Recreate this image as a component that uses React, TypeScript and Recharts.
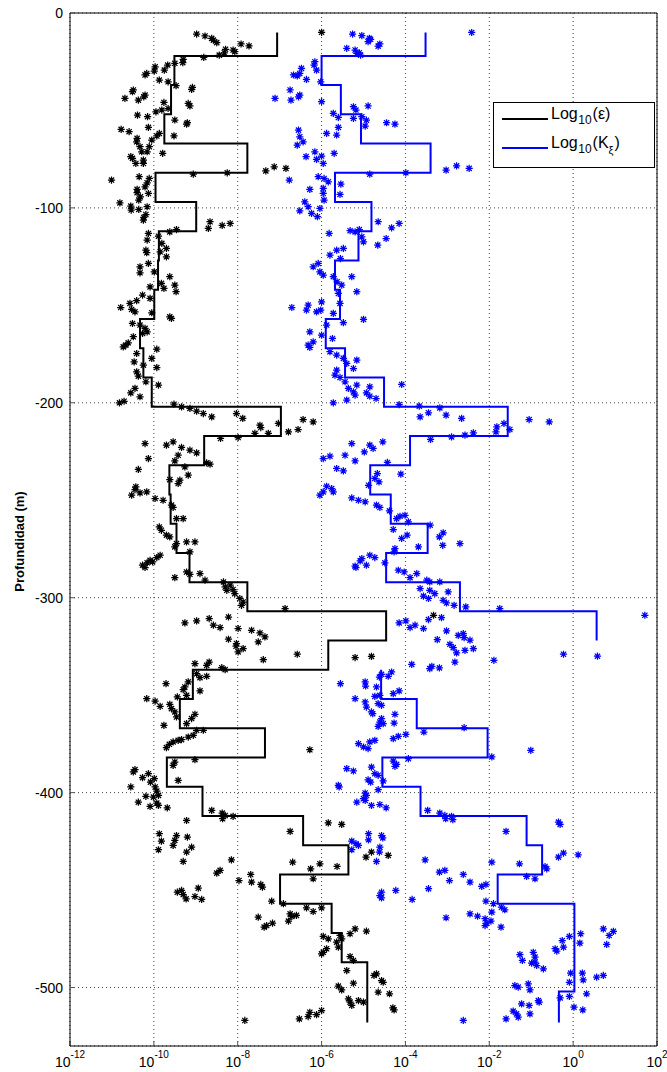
import React from 'react';
import { ScatterChart, Scatter, XAxis, YAxis, CartesianGrid, Legend } from 'recharts';

const FONT = '"Liberation Sans", Arial, Helvetica, sans-serif';

// depth bin edges (m) of the averaged profiles
const depthEdges = [-10, -22, -37, -52, -67, -82, -97, -112, -127, -142, -157, -172, -187, -202, -217, -232, -247, -262, -277, -292, -307, -322, -337, -352, -367, -382, -397, -412, -427, -442, -457, -472, -487, -502, -518];

// log10(epsilon) per bin
const epsilonProfile = [-7.06, -9.51, -9.59, -9.75, -7.77, -9.96, -8.99, -9.88, -9.9, -9.99, -10.33, -10.25, -10.05, -6.97, -8.8, -9.63, -9.6, -9.46, -9.15, -7.77, -4.46, -5.84, -9.07, -9.38, -7.35, -9.69, -8.84, -6.44, -5.36, -6.99, -5.76, -5.52, -4.91, -4.91];

// log10(K) per bin (null = no value)
const kProfile: (number | null)[] = [-3.52, -6.0, -5.54, -5.06, -3.4, -5.68, -4.81, -5.12, -5.68, -5.56, -5.9, -5.44, -4.51, -1.56, -3.89, -4.84, -4.35, -3.47, -4.46, -2.7, 0.56, null, -4.58, -3.73, -2.04, -4.55, -3.64, -1.11, -0.74, -1.8, 0.03, 0.03, 0.03, -0.34];

const xTickExponents = [-12, -10, -8, -6, -4, -2, 0, 2];
const depthTicks = [0, -100, -200, -300, -400, -500];

// individual estimates: [log10 value, depth (m)]
const epsilonStars: [number, number][] = [
[-8.98,-10.8],[-8.78,-11.8],[-8.62,-13.0],[-8.58,-13.9],[-8.50,-15.2],[-8.29,-18.6],[-8.11,-19.0],[-8.07,-19.8],[-7.92,-15.9],[-7.73,-16.9],[-8.32,-20.4],[-8.44,-21.6],[-8.81,-22.8],[-9.30,-23.8],[-9.31,-25.5],[-9.50,-25.8],[-9.67,-26.7],[-9.75,-29.3],[-9.97,-27.6],[-10.17,-31.0],[-10.21,-31.8],[-9.99,-29.8],[-9.87,-34.4],[-9.66,-35.3],[-9.47,-37.3],[-9.08,-38.2],[-9.10,-39.2],[-10.49,-39.5],[-10.51,-40.4],[-10.21,-42.1],[-10.24,-43.0],[-10.69,-43.8],[-10.37,-44.7],[-9.76,-45.9],[-9.95,-50.7],[-9.81,-49.8],[-9.66,-49.0],[-10.39,-52.4],[-10.15,-53.2],[-9.18,-46.4],[-9.14,-47.7],[-9.50,-54.9],[-9.20,-56.3],[-9.22,-57.0],[-10.78,-59.7],[-10.59,-60.9],[-10.13,-58.7],[-9.87,-61.8],[-9.93,-63.1],[-10.05,-65.2],[-10.40,-64.3],[-10.41,-66.1],[-10.33,-68.6],[-10.11,-68.6],[-10.16,-71.2],[-10.29,-71.2],[-10.55,-73.7],[-10.51,-74.6],[-10.43,-77.2],[-10.25,-77.2],[-10.25,-75.5],[-9.79,-72.0],[-9.52,-63.0],[-11.01,-85.7],[-10.35,-84.0],[-10.11,-84.9],[-10.16,-87.1],[-10.21,-89.2],[-10.40,-90.5],[-10.40,-92.2],[-10.32,-94.3],[-10.36,-96.0],[-10.13,-92.6],[-10.81,-97.4],[-10.55,-99.1],[-10.54,-101.1],[-10.36,-100.8],[-10.16,-99.4],[-10.24,-104.9],[-10.25,-106.3],[-10.19,-103.4],[-9.06,-82.7],[-8.25,-82.0],[-8.66,-107.1],[-8.70,-110.5],[-8.37,-109.0],[-8.18,-108.0],[-7.33,-81.0],[-7.13,-78.9],[-6.85,-79.7],[-10.13,-113.1],[-10.16,-116.5],[-9.89,-114.5],[-9.62,-112.3],[-9.46,-111.1],[-9.81,-118.2],[-10.19,-121.7],[-10.17,-123.0],[-9.85,-122.5],[-9.70,-120.8],[-9.70,-125.1],[-10.13,-128.5],[-10.33,-130.2],[-6.0,-9.9],
[-10.33,-133.3],[-9.99,-132.8],[-9.62,-135.3],[-9.50,-139.6],[-9.47,-143.0],[-9.76,-141.3],[-9.82,-138.7],[-10.09,-140.5],[-10.09,-146.4],[-10.27,-144.7],[-10.41,-147.6],[-10.79,-151.1],[-10.57,-149.0],[-10.53,-152.1],[-10.45,-153.3],[-10.05,-153.8],[-9.62,-155.9],[-9.58,-156.7],[-10.51,-159.3],[-10.33,-160.1],[-10.21,-161.8],[-10.16,-163.6],[-10.27,-164.4],[-10.49,-166.1],[-10.67,-170.4],[-10.73,-171.3],[-10.61,-169.2],[-9.93,-172.5],[-10.41,-174.7],[-10.05,-177.2],[-10.47,-179.0],[-10.25,-180.7],[-9.93,-181.9],[-10.41,-184.1],[-10.37,-186.3],[-10.19,-189.2],[-9.89,-190.9],[-10.45,-192.6],[-10.55,-194.9],[-10.33,-196.9],[-10.82,-200.0],[-10.71,-199.2],[-9.52,-200.7],[-9.34,-202.1],[-9.14,-202.9],[-8.98,-204.3],[-8.82,-205.5],[-8.62,-207.2],[-8.03,-205.5],[-7.88,-208.0],[-7.47,-211.5],[-7.45,-212.7],[-7.03,-210.6],[-6.79,-214.9],[-6.56,-213.7],[-6.44,-208.6],[-6.20,-209.8],[-7.59,-215.7],[-7.27,-215.7],[-7.99,-217.8],[-8.41,-218.3],[-10.21,-220.9],[-9.70,-221.7],[-9.54,-220.0],[-9.34,-222.9],[-9.14,-224.3],[-8.98,-225.7],[-9.42,-226.9],[-9.50,-229.8],[-9.26,-232.9],[-9.18,-237.1],[-8.74,-230.8],[-8.66,-231.5],[-10.13,-228.6],[-10.37,-234.2],[-9.62,-239.4],[-9.38,-239.7],[-9.42,-241.4],[-10.43,-243.1],[-10.45,-244.5],[-10.53,-247.4],[-10.33,-246.2],[-10.17,-245.7],[-9.97,-249.1],[-9.78,-250.0],[-9.58,-252.5],[-9.54,-253.7],[-9.30,-259.4],[-9.46,-259.4],[-9.87,-263.7],[-9.82,-265.4],[-9.70,-267.9],[-9.62,-268.8],
[-9.46,-272.2],[-9.50,-273.9],[-9.22,-271.4],[-9.02,-271.4],[-9.14,-276.5],[-9.85,-278.2],[-9.93,-279.4],[-10.09,-280.8],[-10.16,-282.1],[-10.27,-283.3],[-10.21,-284.5],[-10.03,-281.6],[-9.22,-286.8],[-9.14,-288.0],[-8.90,-287.6],[-9.50,-289.7],[-8.78,-291.0],[-8.34,-291.9],[-8.30,-294.5],[-8.18,-293.6],[-8.11,-295.8],[-8.26,-296.2],[-8.07,-297.9],[-7.95,-300.4],[-7.87,-302.2],[-7.91,-303.9],[-6.87,-305.6],[-9.26,-312.9],[-8.98,-311.9],[-8.68,-310.7],[-8.58,-314.1],[-8.42,-315.3],[-8.22,-309.9],[-7.99,-315.8],[-7.67,-316.7],[-7.47,-318.1],[-7.35,-320.1],[-7.51,-322.7],[-8.22,-321.3],[-8.03,-323.5],[-7.87,-326.1],[-7.99,-327.8],[-8.04,-324.9],[-7.39,-331.8],[-6.58,-329.0],[-5.20,-330.7],[-9.02,-333.8],[-8.74,-334.7],[-8.68,-333.0],[-8.38,-335.9],[-8.30,-336.9],[-8.98,-339.0],[-8.90,-341.0],[-8.74,-340.3],[-9.71,-344.1],[-9.18,-343.2],[-9.26,-345.8],[-9.30,-347.2],[-9.22,-350.1],[-8.90,-347.8],[-9.44,-350.9],[-10.17,-351.8],[-9.97,-353.1],[-9.85,-355.7],[-9.62,-354.7],[-9.58,-356.9],[-9.50,-358.6],[-9.46,-361.2],[-9.02,-359.8],[-9.10,-362.0],[-9.22,-364.6],[-8.98,-368.0],[-8.82,-368.0],[-9.06,-370.6],[-9.18,-371.5],[-9.34,-372.8],[-9.42,-373.2],[-9.54,-374.0],[-9.63,-375.2],[-9.70,-376.9],[-9.76,-365.5],[-9.02,-383.1],[-9.50,-384.3],[-9.54,-386.0],[-9.42,-393.7],[-10.45,-388.2],[-10.49,-389.4],[-10.27,-392.3],[-10.13,-390.3],[-9.99,-392.8],[-10.08,-394.6],[-9.97,-397.1],[-9.93,-399.2],[-9.89,-401.4],[-10.01,-402.3],[-10.19,-401.9],[-10.55,-397.1],[-6.28,-378.0],[-3.33,-309.0],[-4.81,-330.1],
[-10.37,-404.9],[-10.09,-407.1],[-9.93,-405.4],[-9.89,-406.6],[-9.68,-407.8],[-8.62,-409.1],[-8.37,-410.5],[-8.30,-411.7],[-8.36,-413.4],[-8.11,-412.2],[-9.22,-414.3],[-9.87,-421.1],[-9.82,-424.9],[-9.89,-429.3],[-9.46,-422.0],[-9.50,-424.5],[-9.54,-427.1],[-9.20,-422.8],[-9.10,-428.0],[-9.22,-430.5],[-9.30,-435.3],[-8.15,-434.5],[-8.42,-439.9],[-8.50,-441.3],[-7.97,-445.1],[-7.69,-442.0],[-7.67,-445.9],[-7.45,-447.1],[-7.41,-448.5],[-7.19,-455.7],[-6.75,-419.9],[-6.69,-435.7],[-6.26,-439.1],[-6.04,-436.5],[-6.20,-444.2],[-5.63,-437.9],[-5.84,-415.5],[-5.52,-416.3],[-9.44,-451.1],[-9.34,-450.2],[-9.30,-452.3],[-9.23,-454.5],[-8.94,-449.0],[-9.02,-453.3],[-8.86,-454.8],[-7.51,-463.9],[-7.37,-469.0],[-7.31,-468.2],[-7.17,-467.0],[-6.75,-462.2],[-6.71,-463.5],[-6.79,-465.9],[-6.60,-463.0],[-6.36,-459.1],[-6.20,-461.0],[-6.00,-459.1],[-6.91,-457.0],[-6.53,-516.1],[-6.32,-514.9],[-6.28,-512.7],[-6.12,-513.9],[-6.00,-511.8],[-7.83,-516.9],[-5.96,-473.8],[-5.84,-475.0],[-5.64,-476.7],[-5.60,-479.3],[-6.00,-482.7],[-5.96,-481.9],[-5.88,-480.1],[-5.52,-475.0],[-5.56,-473.3],[-5.32,-472.4],[-5.20,-469.9],[-5.32,-484.1],[-5.24,-486.1],[-5.40,-491.3],[-5.60,-499.3],[-5.52,-501.2],[-5.24,-497.8],[-5.36,-505.8],[-5.32,-507.5],[-5.28,-509.2],[-5.12,-506.7],
[-4.93,-471.1],[-4.75,-493.8],[-4.69,-493.0],[-4.57,-496.4],[-4.53,-497.3],[-4.65,-502.4],[-4.38,-503.2],[-4.30,-510.4],[-4.27,-511.5],[-4.81,-430.5],[-4.94,-433.1],[-4.41,-432.2],[-5.00,-507.5]
];

const kStars: [number, number][] = [
[-5.26,-10.8],[-5.40,-18.1],[-5.20,-19.0],[-5.16,-20.7],[-6.16,-25.0],[-6.18,-26.7],[-6.12,-29.3],[-6.48,-28.4],[-6.52,-31.0],[-6.58,-32.3],[-6.36,-34.1],[-6.67,-31.8],[-6.02,-35.3],[-6.75,-39.5],[-6.73,-44.7],[-6.55,-43.0],[-6.52,-42.1],[-7.11,-43.8],[-6.00,-45.5],[-5.72,-51.5],[-5.60,-53.6],[-5.24,-54.1],[-5.18,-49.8],[-5.24,-48.1],[-6.55,-60.1],[-6.52,-63.5],[-6.58,-67.8],[-6.44,-66.1],[-6.37,-73.7],[-6.16,-71.2],[-6.12,-75.1],[-5.96,-77.2],[-6.00,-73.4],[-5.88,-61.8],[-5.60,-58.7],[-5.64,-62.6],[-5.70,-72.0],[-6.77,-85.7],[-6.08,-84.0],[-5.94,-84.9],[-5.84,-86.6],[-5.54,-87.8],[-5.96,-90.0],[-6.28,-90.5],[-5.96,-92.6],[-5.56,-93.1],[-5.94,-96.0],[-6.40,-96.9],[-6.32,-99.4],[-6.52,-101.5],[-6.24,-102.8],[-6.10,-104.5],[-6.04,-100.3],[-5.82,-113.1],[-5.32,-111.7],[-5.20,-112.3],[-5.48,-120.8],[-5.64,-121.7],[-5.80,-124.2],[-6.08,-128.5],[-6.20,-130.2],[-5.55,-126.0],
[-5.04,-11.6],[-4.86,-13.0],[-4.83,-13.5],[-4.89,-14.7],[-4.61,-15.9],[-4.65,-17.0],[-5.10,-20.4],[-5.07,-21.6],[-2.42,-10.0],[-4.89,-47.7],[-4.93,-55.0],[-4.96,-58.0],[-4.45,-56.3],[-4.25,-57.0],[-5.04,-53.2],[-3.03,-80.6],[-2.78,-78.4],[-2.48,-79.7],[-4.85,-82.7],[-3.99,-82.0],[-4.65,-107.1],[-4.15,-108.0],[-4.33,-110.2],[-4.46,-115.7],[-4.66,-119.1],[-5.00,-117.4],[-5.10,-111.1],[-5.04,-114.8],
[-6.04,-132.8],[-5.96,-134.5],[-5.72,-135.3],[-5.63,-137.9],[-5.52,-139.6],[-5.28,-135.3],[-5.16,-143.0],[-5.60,-143.9],[-5.56,-149.0],[-5.72,-154.1],[-6.00,-148.2],[-6.02,-152.4],[-6.32,-149.9],[-6.36,-152.4],[-6.12,-153.3],[-6.71,-151.1],[-5.88,-160.1],[-5.48,-158.9],[-6.28,-163.6],[-6.00,-165.3],[-5.74,-167.0],[-6.20,-168.7],[-6.32,-170.4],[-6.28,-171.6],[-5.80,-173.8],[-5.64,-175.5],[-5.48,-177.2],[-5.40,-179.8],[-5.16,-178.1],[-5.24,-182.4],[-5.64,-183.2],[-5.68,-185.8],[-5.56,-187.0],[-5.44,-189.2],[-5.16,-190.9],[-5.36,-192.6],[-5.24,-194.4],[-5.20,-196.1],[-5.40,-198.6],[-5.72,-200.0],[-5.28,-220.9],[-5.96,-228.6],[-5.80,-227.4],[-5.44,-226.9],[-5.20,-229.8],[-5.64,-233.7],[-5.48,-234.9],[-5.88,-242.8],[-5.76,-244.0],[-5.96,-245.7],[-6.04,-247.4],[-5.72,-245.7],[-5.28,-248.8],[-5.12,-250.0],
[-5.00,-157.2],[-4.85,-191.8],[-4.93,-194.9],[-4.85,-196.6],[-4.70,-197.8],[-4.09,-190.6],[-4.15,-200.9],[-3.67,-201.7],[-3.18,-202.6],[-3.65,-207.2],[-3.45,-205.1],[-3.03,-206.3],[-2.66,-208.0],[-1.82,-212.3],[-1.65,-210.6],[-1.51,-213.7],[-1.84,-214.9],[-2.38,-215.4],[-2.58,-216.6],[-2.90,-217.5],[-3.40,-218.8],[-1.05,-208.6],[-0.57,-209.8],[-4.85,-221.7],[-4.77,-223.4],[-4.98,-225.2],[-4.54,-220.0],[-4.43,-230.6],[-4.67,-236.3],[-4.73,-238.8],[-4.63,-240.6],[-4.11,-236.6],[-4.88,-242.3],[-4.96,-250.8],[-4.69,-252.5],[-4.61,-253.7],[-4.38,-255.4],[-4.13,-258.2],[-4.01,-257.7],[-4.21,-259.4],[-3.93,-261.1],[-3.41,-262.8],[-4.29,-265.0],[-4.09,-269.6],[-3.96,-267.9],[-3.19,-268.8],[-3.10,-266.7],
[-4.25,-274.8],[-4.27,-276.5],[-3.69,-273.9],[-3.11,-273.1],[-2.70,-272.2],[-5.04,-279.9],[-5.08,-281.1],[-4.85,-278.2],[-4.73,-279.4],[-5.20,-283.8],[-5.18,-284.5],[-4.93,-283.3],[-4.49,-282.1],[-4.17,-285.9],[-4.03,-286.8],[-3.73,-287.6],[-3.89,-289.7],[-3.49,-291.0],[-3.42,-291.9],[-3.18,-291.9],[-3.65,-295.3],[-3.42,-296.2],[-3.30,-297.9],[-2.98,-297.0],[-3.57,-299.2],[-3.45,-300.4],[-3.10,-301.3],[-3.02,-302.7],[-2.84,-303.9],[-2.56,-304.7],[-1.75,-305.6],[1.71,-309.0],[-4.15,-312.9],[-3.99,-311.9],[-3.89,-315.3],[-3.77,-314.1],[-3.57,-315.8],[-3.45,-311.2],[-3.14,-310.2],[-3.02,-317.0],[-3.24,-321.5],[-2.94,-323.9],[-2.86,-325.6],[-2.78,-328.3],[-2.58,-327.0],[-2.74,-319.3],[-2.62,-318.4],[-2.60,-320.5],[-2.46,-321.8],[-2.38,-326.1],[-2.82,-333.0],[-3.42,-336.4],[-3.37,-335.2],[-3.19,-336.0],[-3.85,-334.2],[-1.89,-332.1],[-0.23,-329.0],[0.58,-330.0],[-5.55,-344.1],[-4.96,-343.2],[-4.95,-345.3],[-4.69,-345.8],[-4.62,-340.7],[-4.57,-339.3],[-4.33,-338.1],[-4.41,-340.3],[-4.73,-350.6],[-4.61,-350.1],[-4.29,-349.2],[-4.15,-347.8],[-5.20,-351.8],[-4.96,-353.5],[-4.93,-356.1],[-4.81,-358.6],[-4.78,-359.5],[-4.65,-354.3],[-4.57,-355.2],[-4.57,-362.0],[-4.61,-363.8],[-4.53,-364.6],[-4.65,-366.0],[-4.25,-359.8],[-4.27,-364.3],[-3.56,-368.9],[-2.60,-366.7],[-4.29,-372.3],[-4.17,-371.1],[-3.99,-370.1],[-5.12,-374.9],[-5.00,-376.6],[-4.89,-377.4],[-4.85,-374.0],[-4.73,-373.2],[-3.93,-382.6],[-4.29,-383.8],[-4.21,-385.5],[-4.25,-386.5],[-1.94,-381.7],[-1.01,-378.3],[-5.40,-387.7],[-5.24,-388.9],[-4.81,-386.9],[-4.73,-390.3],[-4.65,-391.1],[-4.89,-393.4],[-4.83,-394.6],[-4.53,-394.0],[-4.65,-398.5],[-5.60,-396.3],[-5.58,-397.1],[-4.96,-400.2],[-4.93,-401.4],[-5.00,-403.1],
[-5.16,-404.9],[-4.96,-404.0],[-4.81,-406.6],[-4.61,-406.1],[-4.46,-407.8],[-3.47,-409.1],[-3.18,-410.5],[-3.06,-411.7],[-3.04,-413.4],[-2.90,-412.2],[-2.87,-413.9],[-1.60,-419.9],[-0.35,-415.1],[-0.31,-416.3],[-4.88,-421.1],[-4.88,-424.2],[-4.57,-422.0],[-4.54,-423.2],[-5.28,-424.9],[-5.18,-426.2],[-5.12,-427.1],[-5.28,-429.3],[-4.61,-428.0],[-4.62,-430.5],[-4.69,-435.3],[-3.53,-434.5],[-3.19,-440.8],[-3.06,-439.9],[-2.95,-445.1],[-2.62,-442.0],[-2.46,-445.9],[-2.18,-448.1],[-2.08,-447.1],[-1.94,-435.7],[-1.28,-436.5],[-1.11,-443.0],[-0.91,-444.2],[-0.67,-437.9],[-0.63,-439.1],[-0.35,-433.1],[-0.23,-431.0],[0.12,-431.9],[-4.57,-451.1],[-4.61,-452.8],[-4.57,-454.0],[-4.23,-450.2],[-3.84,-454.8],[-3.45,-449.3],[-3.03,-464.2],[-2.46,-462.2],[-2.28,-463.4],[-2.08,-455.7],[-1.94,-461.3],[-2.10,-464.7],[-2.06,-467.0],[-1.96,-465.9],[-2.10,-468.2],[-1.72,-469.0],[-1.90,-457.0],[-1.71,-458.8],[-1.63,-460.1],[-1.27,-483.1],[-1.21,-486.1],[-0.95,-481.9],[-0.91,-484.4],[-0.99,-487.5],[-0.87,-488.7],[-0.71,-490.4],[-0.91,-487.0],[-0.43,-480.1],[-0.39,-481.3],[-0.23,-479.3],[-0.26,-475.9],[-0.09,-473.8],[0.18,-472.4],[0.16,-477.2],[0.72,-469.9],[0.96,-471.2],[0.86,-473.3],[0.80,-477.9],[-0.06,-492.6],[0.22,-492.6],[0.24,-496.1],[0.56,-494.7],[0.72,-493.8],[-0.09,-497.3],[0.32,-503.2],[-0.31,-505.3],[-0.09,-504.6],[-1.39,-499.0],[-1.31,-499.8],[-1.07,-498.1],[-1.03,-501.2],[-1.23,-508.4],[-1.05,-509.2],[-0.83,-506.7],[-0.81,-507.5],[-1.03,-513.5],[-1.43,-512.1],[-1.35,-513.5],[-1.31,-515.2],[-1.60,-516.1],[0.02,-510.1],[0.23,-511.5],[-2.62,-516.9]
];

type Pt = { x: number; y: number };

const toPoints = (stars: [number, number][]): Pt[] => stars.map(([x, y]) => ({ x, y }));

function profileSegments(edges: number[], values: (number | null)[]): Pt[][] {
  const segs: Pt[][] = [];
  let cur: Pt[] = [];
  values.forEach((v, i) => {
    if (v === null) {
      if (cur.length) segs.push(cur);
      cur = [];
      return;
    }
    cur.push({ x: v, y: edges[i] }, { x: v, y: edges[i + 1] });
  });
  if (cur.length) segs.push(cur);
  return segs;
}

const makeStar = (color: string) => (props: any) => {
  const { cx, cy } = props;
  if (cx == null || cy == null || isNaN(cx) || isNaN(cy)) return <g />;
  const r = 3.6;
  const d = 2.6;
  return (
    <path
      d={`M${cx - r},${cy}H${cx + r}M${cx},${cy - r}V${cy + r}M${cx - d},${cy - d}L${cx + d},${cy + d}M${cx - d},${cy + d}L${cx + d},${cy - d}`}
      stroke={color}
      strokeWidth={1.25}
      fill="none"
    />
  );
};

const noMarker = () => <g />;

const XTick = (props: any) => {
  const { x, y, payload } = props;
  return (
    <text x={x} y={y + 21} textAnchor="middle" fontFamily={FONT} fontSize={14} fill="#000">
      10<tspan dy={-9} fontSize={10}>{payload.value}</tspan>
    </text>
  );
};

const YTick = (props: any) => {
  const { x, y, payload } = props;
  return (
    <text x={x} y={y + 5} textAnchor="end" fontFamily={FONT} fontSize={14} fill="#000">
      {payload.value}
    </text>
  );
};

const YLabel = (props: any) => {
  const vb = props.viewBox || { x: 0, y: 13, width: 70, height: 1033 };
  const lx = vb.x + 24;
  const ly = vb.y + vb.height / 2 + 12;
  return (
    <text
      x={lx}
      y={ly}
      transform={`rotate(-90, ${lx}, ${ly})`}
      textAnchor="middle"
      fontFamily={FONT}
      fontSize={13}
      fontWeight="bold"
      fill="#000"
    >
      Profundidad (m)
    </text>
  );
};

const LegendBox = () => (
  <svg width={162} height={66} style={{ display: 'block' }}>
    <rect x={0.5} y={0.5} width={161} height={65} fill="#fff" stroke="#000" strokeWidth={1} />
    <line x1={9} x2={55} y1={17} y2={17} stroke="#000" strokeWidth={2} />
    <text x={58} y={17} fontFamily={FONT} fontSize={16} fill="#000">
      Log<tspan dy={5} dx={0.5} fontSize={12}>10</tspan>
      <tspan dy={-5} dx={1} fontSize={16}>(ε)</tspan>
    </text>
    <line x1={9} x2={55} y1={46} y2={46} stroke="#0000ff" strokeWidth={2} />
    <text x={58} y={46} fontFamily={FONT} fontSize={16} fill="#000">
      Log<tspan dy={5} dx={0.5} fontSize={12}>10</tspan>
      <tspan dy={-5} dx={1} fontSize={16}>(K</tspan>
      <tspan dy={6} fontSize={11}>ξ</tspan>
      <tspan dy={-6} dx={1} fontSize={16}>)</tspan>
    </text>
  </svg>
);

export default function App() {
  const epsPts = toPoints(epsilonStars);
  const kPts = toPoints(kStars);
  const epsSegs = profileSegments(depthEdges, epsilonProfile);
  const kSegs = profileSegments(depthEdges, kProfile);

  return (
    <div style={{ position: 'absolute', left: 0, top: 0, width: 667, height: 1072, background: '#fff' }}>
      <ScatterChart width={667} height={1072} margin={{ top: 0, right: 0, bottom: 0, left: 0 }}>
        <CartesianGrid xAxisId="b" yAxisId="l" stroke="#444" strokeDasharray="1 3" />
        <XAxis
          xAxisId="b"
          type="number"
          dataKey="x"
          orientation="bottom"
          domain={[-12, 2]}
          ticks={xTickExponents}
          interval={0}
          allowDataOverflow
          height={26}
          tickSize={-5}
          tickMargin={5}
          axisLine={{ stroke: '#000' }}
          tickLine={{ stroke: '#555' }}
          tick={<XTick />}
        />
        <XAxis
          xAxisId="t"
          type="number"
          dataKey="x"
          orientation="top"
          domain={[-12, 2]}
          ticks={xTickExponents}
          interval={0}
          allowDataOverflow
          height={13}
          tickSize={-5}
          axisLine={{ stroke: '#000' }}
          tickLine={{ stroke: '#555' }}
          tick={false}
        />
        <YAxis
          yAxisId="l"
          type="number"
          dataKey="y"
          orientation="left"
          domain={[-530, 0]}
          ticks={depthTicks}
          interval={0}
          allowDataOverflow
          width={70}
          tickSize={-5}
          tickMargin={12}
          axisLine={{ stroke: '#000' }}
          tickLine={{ stroke: '#555' }}
          tick={<YTick />}
          label={<YLabel />}
        />
        <YAxis
          yAxisId="r"
          type="number"
          dataKey="y"
          orientation="right"
          domain={[-530, 0]}
          ticks={depthTicks}
          interval={0}
          allowDataOverflow
          width={10}
          tickSize={-5}
          axisLine={{ stroke: '#000' }}
          tickLine={{ stroke: '#555' }}
          tick={false}
        />
        <Scatter
          name="eps-stars"
          data={epsPts}
          xAxisId="b"
          yAxisId="l"
          shape={makeStar('#000000')}
          isAnimationActive={false}
          legendType="none"
        />
        <Scatter
          name="k-stars"
          data={kPts}
          xAxisId="b"
          yAxisId="l"
          shape={makeStar('#0000ff')}
          isAnimationActive={false}
          legendType="none"
        />
        {epsSegs.map((seg, i) => (
          <Scatter
            key={`e${i}`}
            name={`eps-profile-${i}`}
            data={seg}
            xAxisId="b"
            yAxisId="l"
            line={{ stroke: '#000000', strokeWidth: 2 }}
            lineType="joint"
            shape={noMarker}
            isAnimationActive={false}
            legendType="none"
          />
        ))}
        {kSegs.map((seg, i) => (
          <Scatter
            key={`k${i}`}
            name={`k-profile-${i}`}
            data={seg}
            xAxisId="b"
            yAxisId="l"
            line={{ stroke: '#0000ff', strokeWidth: 2 }}
            lineType="joint"
            shape={noMarker}
            isAnimationActive={false}
            legendType="none"
          />
        ))}
        <Legend
          layout="vertical"
          align="center"
          verticalAlign="middle"
          wrapperStyle={{ position: 'absolute', left: 493, top: 102, width: 162, height: 66, margin: 0 }}
          content={() => <LegendBox />}
        />
      </ScatterChart>
    </div>
  );
}
